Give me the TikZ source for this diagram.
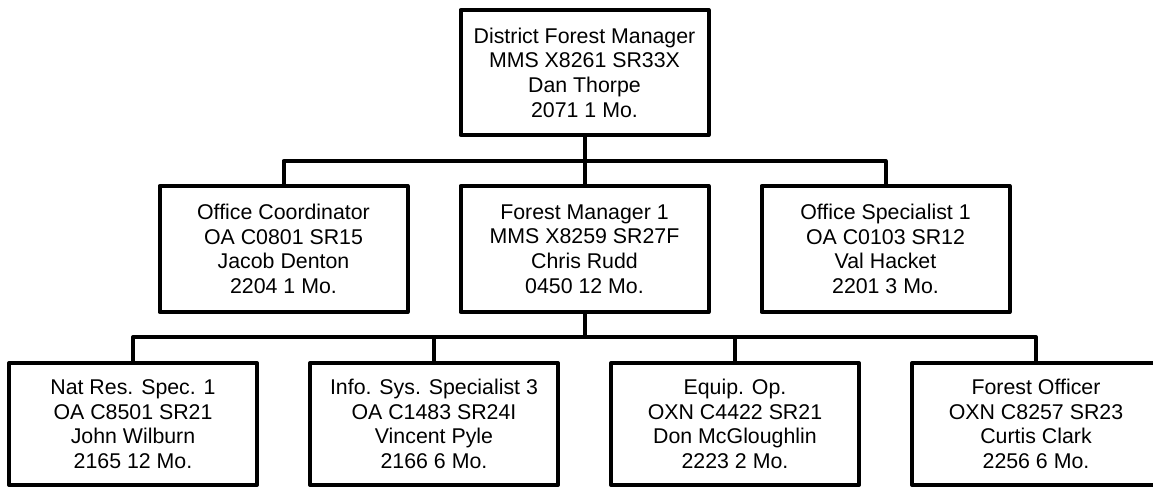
\documentclass[tikz,border=0pt]{standalone}
\usepackage{fontspec}
\setmainfont{Liberation Sans}
\begin{document}
\begin{tikzpicture}[x=0.75pt, y=-0.75pt, node distance=225.75pt,
    box/.style={draw, line width=3pt, line join=round, align=center, inner sep=2pt,
        minimum width=186pt, font=\fontsize{16}{18.5}\selectfont},
    lowbox/.style={box, minimum height=91.5pt, execute at begin node={\rule{0pt}{23.5pt}}},
    wire/.style={line width=3pt, line join=round}]
    \useasboundingbox (0,0) rectangle (1153,487);

    \node[box, minimum height=93.75pt] (dfm) at (584.5,72.5) {District Forest Manager\\MMS X8261 SR33X\\Dan Thorpe\\2071 1 Mo.};

    \node[box, minimum height=94.5pt] (oc) at (283.5,249) {Office Coordinator\\OA C0801 SR15\\Jacob Denton\\2204 1 Mo.};
    \node[box, minimum height=94.5pt, right of=oc] (fm1) {Forest Manager 1\\MMS X8259 SR27F\\Chris Rudd\\0450 12 Mo.};
    \node[box, minimum height=94.5pt, right of=fm1] (os) {Office Specialist 1\\OA C0103 SR12\\Val Hacket\\2201 3 Mo.};

    \node[lowbox] (nrs) at (133,424) {Nat Res. Spec. 1\\OA C8501 SR21\\John Wilburn\\2165 12 Mo.};
    \node[lowbox, right of=nrs] (iss) {Info. Sys. Specialist 3\\OA C1483 SR24I\\Vincent Pyle\\2166 6 Mo.};
    \node[lowbox, right of=iss] (eq) {Equip. Op.\\OXN C4422 SR21\\Don McGloughlin\\2223 2 Mo.};
    \node[lowbox, right of=eq] (fo) {Forest Officer\\OXN C8257 SR23\\Curtis Clark\\2256 6 Mo.};

    % reporting lines
    \coordinate (b1) at (584.5,161);
    \coordinate (b2) at (584.5,337);
    \draw[wire] (dfm) -- (fm1);
    \draw[wire] (oc.north) |- (b1) -| (os.north);
    \draw[wire] (fm1) -- (b2);
    \draw[wire] (nrs.north) |- (b2) -| (fo.north);
    \draw[wire] (iss.north) -- (iss.north |- b2);
    \draw[wire] (eq.north) -- (eq.north |- b2);
\end{tikzpicture}
\end{document}
